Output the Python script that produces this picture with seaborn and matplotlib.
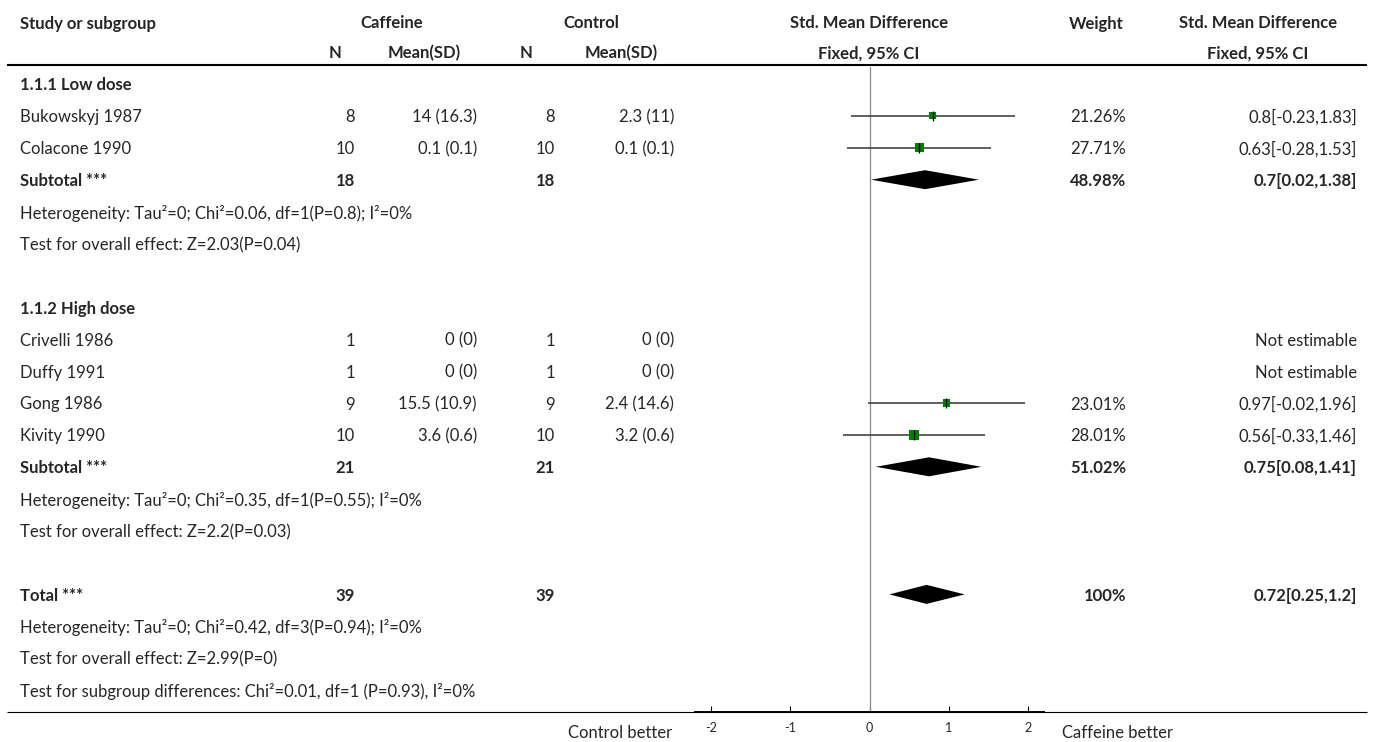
import numpy as np
import pandas as pd
import matplotlib
matplotlib.use("Agg")
import matplotlib.pyplot as plt
import seaborn as sns

# Study-level data
study_names = ["Bukowskyj 1987", "Colacone 1990", "Crivelli 1986", "Duffy 1991", "Gong 1986", "Kivity 1990"]
study_rows = [1, 2, 8, 9, 10, 11]
caf_n = [8, 10, 1, 1, 9, 10]
caf_mean_sd = ["14 (16.3)", "0.1 (0.1)", "0 (0)", "0 (0)", "15.5 (10.9)", "3.6 (0.6)"]
ctl_n = [8, 10, 1, 1, 9, 10]
ctl_mean_sd = ["2.3 (11)", "0.1 (0.1)", "0 (0)", "0 (0)", "2.4 (14.6)", "3.2 (0.6)"]
smd = [0.8, 0.63, np.nan, np.nan, 0.97, 0.56]
ci_lo = [-0.23, -0.28, np.nan, np.nan, -0.02, -0.33]
ci_hi = [1.83, 1.53, np.nan, np.nan, 1.96, 1.46]
weights = [21.26, 27.71, np.nan, np.nan, 23.01, 28.01]

# Subgroups
subgroup_labels = ["1.1.1 Low dose", "1.1.2 High dose"]
subgroup_rows = [0, 7]
sub_rows = [3, 12]
sub_caf_n = [18, 21]
sub_ctl_n = [18, 21]
sub_smd = [0.7, 0.75]
sub_lo = [0.02, 0.08]
sub_hi = [1.38, 1.41]
sub_weights = [48.98, 51.02]
sub_het = ["Heterogeneity: Tau²=0; Chi²=0.06, df=1(P=0.8); I²=0%",
           "Heterogeneity: Tau²=0; Chi²=0.35, df=1(P=0.55); I²=0%"]
sub_het_rows = [4, 13]
sub_test = ["Test for overall effect: Z=2.03(P=0.04)",
            "Test for overall effect: Z=2.2(P=0.03)"]
sub_test_rows = [5, 14]

# Overall
total_row = 16
total_caf_n = 39
total_ctl_n = 39
total_smd = 0.72
total_lo = 0.25
total_hi = 1.2
total_weight = 100
total_notes = ["Heterogeneity: Tau²=0; Chi²=0.42, df=3(P=0.94); I²=0%",
               "Test for overall effect: Z=2.99(P=0)",
               "Test for subgroup differences: Chi²=0.01, df=1 (P=0.93), I²=0%"]
total_note_rows = [17, 18, 19]

axis_ticks = [-2, -1, 0, 1, 2]

# layout (pixels)
W, H = 1375, 742
ROW0, STEP = 84, 31.9
FS = 12


def ypos(r):
    return ROW0 + STEP * r


def fmt_ci(m, lo, hi):
    return f"{m:g}[{lo:g},{hi:g}]"


sns.set_theme(style="white")
plt.rcParams["font.family"] = ["Lato", "DejaVu Sans"]

fig = plt.figure(figsize=(W / 100, H / 100), dpi=100)
ax = fig.add_axes([0, 0, 1, 1])
ax.set_xlim(0, W)
ax.set_ylim(H, 0)
ax.axis("off")

# header
hdr = dict(fontsize=FS, fontweight="bold", va="center_baseline")
ax.text(20, 22, "Study or subgroup", ha="left", **hdr)
ax.text(392, 22, "Caffeine", ha="center", **hdr)
ax.text(591, 22, "Control", ha="center", **hdr)
ax.text(335, 52, "N", ha="center", **hdr)
ax.text(424, 52, "Mean(SD)", ha="center", **hdr)
ax.text(526, 52, "N", ha="center", **hdr)
ax.text(621, 52, "Mean(SD)", ha="center", **hdr)
ax.text(869, 22, "Std. Mean Difference", ha="center", **hdr)
ax.text(869, 52, "Fixed, 95% CI", ha="center", **hdr)
ax.text(1096, 22, "Weight", ha="center", **hdr)
ax.text(1258, 22, "Std. Mean Difference", ha="center", **hdr)
ax.text(1258, 52, "Fixed, 95% CI", ha="center", **hdr)
ax.hlines(65, 7, 1367, color="black", lw=1.5)
ax.hlines(712, 7, 1367, color="black", lw=0.8)

norm = dict(fontsize=FS, va="center_baseline")
bold = dict(fontsize=FS, va="center_baseline", fontweight="bold")

for i, name in enumerate(study_names):
    y = ypos(study_rows[i])
    ax.text(20, y, name, ha="left", **norm)
    ax.text(355, y, str(caf_n[i]), ha="right", **norm)
    ax.text(477, y, caf_mean_sd[i], ha="right", **norm)
    ax.text(555, y, str(ctl_n[i]), ha="right", **norm)
    ax.text(674, y, ctl_mean_sd[i], ha="right", **norm)
    if np.isnan(smd[i]):
        ax.text(1357, y, "Not estimable", ha="right", **norm)
    else:
        ax.text(1126, y, f"{weights[i]:g}%", ha="right", **norm)
        ax.text(1357, y, fmt_ci(smd[i], ci_lo[i], ci_hi[i]), ha="right", **norm)

for k in range(2):
    ax.text(20, ypos(subgroup_rows[k]), subgroup_labels[k], ha="left", **bold)
    y = ypos(sub_rows[k])
    ax.text(20, y, "Subtotal ***", ha="left", **bold)
    ax.text(355, y, str(sub_caf_n[k]), ha="right", **bold)
    ax.text(555, y, str(sub_ctl_n[k]), ha="right", **bold)
    ax.text(1126, y, f"{sub_weights[k]:g}%", ha="right", **bold)
    ax.text(1357, y, fmt_ci(sub_smd[k], sub_lo[k], sub_hi[k]), ha="right", **bold)
    ax.text(20, ypos(sub_het_rows[k]), sub_het[k], ha="left", **norm)
    ax.text(20, ypos(sub_test_rows[k]), sub_test[k], ha="left", **norm)

y = ypos(total_row)
ax.text(20, y, "Total ***", ha="left", **bold)
ax.text(355, y, str(total_caf_n), ha="right", **bold)
ax.text(555, y, str(total_ctl_n), ha="right", **bold)
ax.text(1126, y, f"{total_weight:g}%", ha="right", **bold)
ax.text(1357, y, fmt_ci(total_smd, total_lo, total_hi), ha="right", **bold)
for r, note in zip(total_note_rows, total_notes):
    ax.text(20, ypos(r), note, ha="left", **norm)

ax.text(672, 731, "Control better", ha="right", **norm)
ax.text(1062, 731, "Caffeine better", ha="left", **norm)

# forest panel
fx0, fx1, fy0, fy1 = 695, 1044, 67, 712
fax = fig.add_axes([fx0 / W, (H - fy1) / H, (fx1 - fx0) / W, (fy1 - fy0) / H])
fax.set_facecolor("none")
fax.set_xlim(-2.2, 2.2)
fax.set_ylim(fy1, fy0)
sns.despine(ax=fax, left=True, top=True, right=True)
fax.spines["bottom"].set_linewidth(1.4)
fax.spines["bottom"].set_color("black")
fax.set_yticks([])
fax.set_xticks(axis_ticks)
fax.set_xticklabels([str(t) for t in axis_ticks])
fax.tick_params(axis="x", direction="in", length=4, width=0.8, color="black",
                labelsize=9, pad=7, bottom=True)
fax.axvline(0, color="#888888", lw=0.9, zorder=1)

df = pd.DataFrame({"smd": smd, "lo": ci_lo, "hi": ci_hi, "w": weights,
                   "y": [ypos(r) for r in study_rows]}).dropna()
fax.hlines(df["y"], df["lo"], df["hi"], color="#444444", lw=1.2, zorder=2)
sns.scatterplot(data=df, x="smd", y="y", size="w", sizes=(26, 44), marker="s",
                color="#008000", edgecolor="none", legend=False, ax=fax, zorder=3)
fax.scatter(df["smd"], df["y"], marker="|", s=50, color="black", lw=0.9, zorder=4)
fax.set_xlabel("")
fax.set_ylabel("")
fax.set_ylim(fy1, fy0)

DH = 9.5
for m, lo, hi, r in list(zip(sub_smd, sub_lo, sub_hi, sub_rows)) + [(total_smd, total_lo, total_hi, total_row)]:
    yc = ypos(r)
    fax.fill([lo, m, hi, m], [yc, yc - DH, yc, yc + DH], color="black", zorder=3, lw=0)

fig.savefig("out.png", dpi=100)
